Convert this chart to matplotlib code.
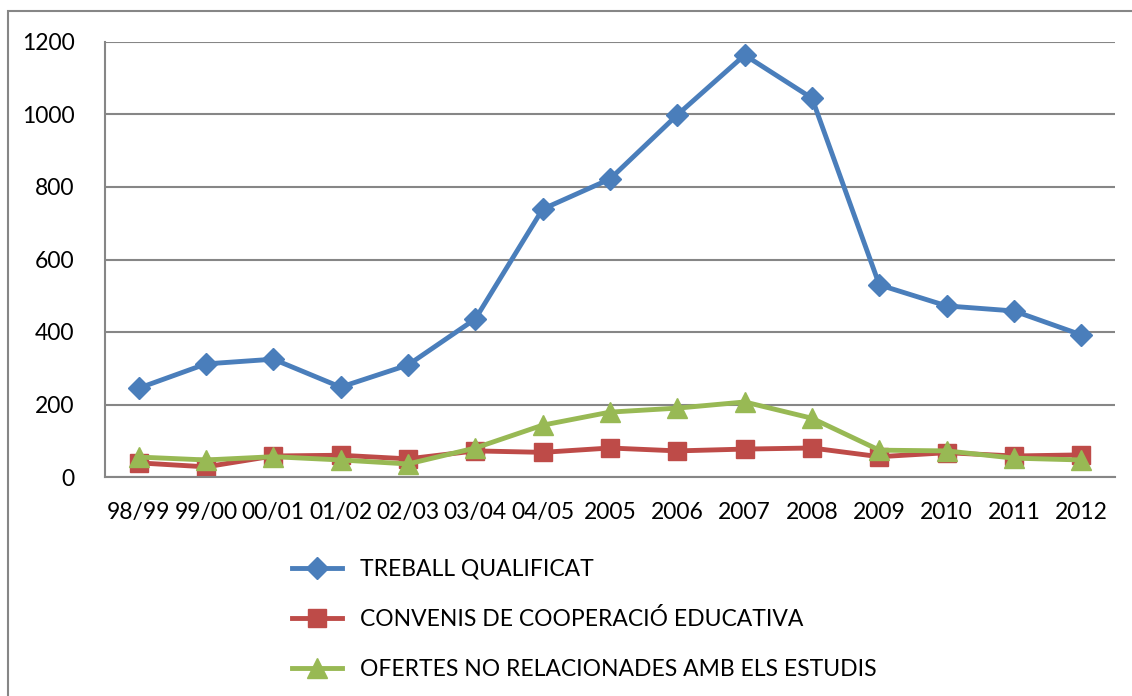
import matplotlib.pyplot as plt
from matplotlib.patches import Rectangle

plt.rcParams['font.family'] = ['Lato', 'DejaVu Sans']

cursos = ["98/99", "99/00", "00/01", "01/02", "02/03", "03/04", "04/05",
          "2005", "2006", "2007", "2008", "2009", "2010", "2011", "2012"]
treball = [245, 312, 325, 248, 309, 436, 739, 822, 999, 1164, 1045, 530, 472, 458, 392]
convenis = [39, 28, 58, 60, 50, 72, 68, 80, 72, 77, 80, 56, 67, 58, 61]
ofertes = [55, 47, 56, 47, 36, 80, 143, 179, 190, 207, 162, 74, 72, 52, 47]

fig = plt.figure(figsize=(11.32, 6.96), dpi=100)
ax = fig.add_axes([105/1132, 1 - 477/696, 1010/1132, 435/696])

x = range(len(cursos))
ax.plot(x, treball, color="#4A7EBB", lw=3.5, marker="D", ms=11, label="TREBALL QUALIFICAT")
ax.plot(x, convenis, color="#BE4B48", lw=3.5, marker="s", ms=13, label="CONVENIS DE COOPERACIÓ EDUCATIVA")
ax.plot(x, ofertes, color="#98B954", lw=3.5, marker="^", ms=14, label="OFERTES NO RELACIONADES AMB ELS ESTUDIS")

ax.set_xlim(-0.5, len(cursos) - 0.5)
ax.set_ylim(0, 1200)
ax.set_yticks(range(0, 1201, 200))
ax.set_xticks(list(x))
ax.set_xticklabels(cursos)
ax.tick_params(length=0, labelsize=16.5, colors="black")
ax.tick_params(axis="x", pad=18)
ax.tick_params(axis="y", pad=22)
ax.yaxis.grid(True, color="#868686", lw=1.5)
ax.set_axisbelow(True)
for s in ["top", "right"]:
    ax.spines[s].set_visible(False)
ax.spines["left"].set_color("#868686")
ax.spines["left"].set_linewidth(1.5)
ax.spines["bottom"].set_color("#868686")
ax.spines["bottom"].set_linewidth(1.5)

fig.legend(loc="upper left", bbox_to_anchor=(271/1132, 1 - 538/696), frameon=False,
           fontsize=16.5, labelspacing=1.25, handlelength=2.2, handletextpad=0.8)

fig.patches.append(Rectangle((8/1132, -0.1), 1.2, 1 - 11/696 + 0.1, transform=fig.transFigure,
                             fill=False, edgecolor="#868686", lw=1.5))

fig.savefig("out.png", dpi=100)
